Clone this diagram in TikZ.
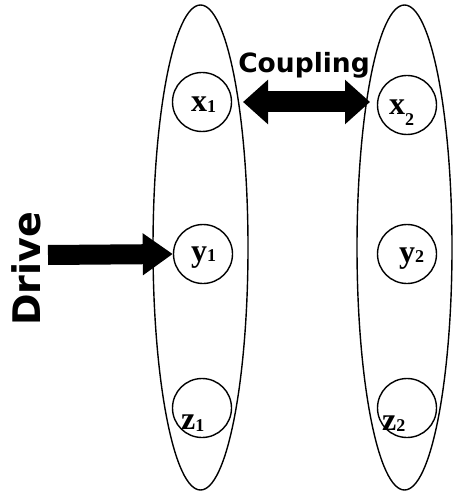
\documentclass[tikz,border=0pt]{standalone}
\usepackage{fontspec}
\setmainfont{Liberation Serif}
\newfontfamily\boldsans{DejaVu Sans}
\usetikzlibrary{arrows.meta,shapes.geometric}
\tikzset{
  group/.style={draw, line width=1.4pt, ellipse, minimum width=95pt, minimum height=485pt, inner sep=0pt},
  var/.style={draw, line width=1.4pt, circle, minimum size=59pt, inner sep=0pt},
  lab/.style={anchor=base west, inner sep=0pt, font=\fontsize{32}{32}\selectfont\bfseries},
  fat/.style={line width=21pt, {Triangle[length=25pt,width=43pt]}-{Triangle[length=25pt,width=43pt]}},
  fatone/.style={line width=20pt, -{Triangle[length=30pt,width=40pt]}},
  bigword/.style={inner sep=0pt}
}
\begin{document}
\begin{tikzpicture}[x=1pt,y=1pt]
\useasboundingbox (0,0) rectangle (455,-494);
\node[group] (g1) at (200.5,-247.5) {};
\node[group] (g2) at (404.5,-247.5) {};
\node[var] (x1) at (202,-102) {};
\node[var] (y1) at (203,-254) {};
\node[var] (z1) at (202,-408) {};
\node[var] (x2) at (407,-105) {};
\node[var] (y2) at (407,-254) {};
\node[var] (z2) at (407,-408) {};
\node[lab] (lx1) at (191,-112) {x\raisebox{-1pt}{\fontsize{18}{18}\selectfont 1}};
\node[lab] (ly1) at (191,-261) {y\raisebox{0pt}{\fontsize{18}{18}\selectfont 1}};
\node[lab] (lz1) at (181,-429) {z\raisebox{-2pt}{\fontsize{18}{18}\selectfont 1}};
\node[lab] (lx2) at (389,-115) {x\raisebox{-11pt}{\fontsize{18}{18}\selectfont 2}};
\node[lab] (ly2) at (399,-262) {y\raisebox{0pt}{\fontsize{18}{18}\selectfont 2}};
\node[lab] (lz2) at (382,-430) {z\raisebox{-1pt}{\fontsize{18}{18}\selectfont 2}};
\coordinate (cl) at (243,-102);
\coordinate (cr) at (370,-102);
\draw[fat] (cl) -- (cr);
\coordinate (ds) at (48,-255);
\draw[fatone] (ds) -- (y1.west);
\node[bigword, anchor=base, font=\boldsans\bfseries\fontsize{26.5}{26.5}\selectfont] (coup) at (304,-73) {Coupling};
\node[bigword, anchor=base west, rotate=90, font=\boldsans\bfseries\fontsize{38}{38}\selectfont] (drive) at (40,-326) {Drive};
\end{tikzpicture}
\end{document}
